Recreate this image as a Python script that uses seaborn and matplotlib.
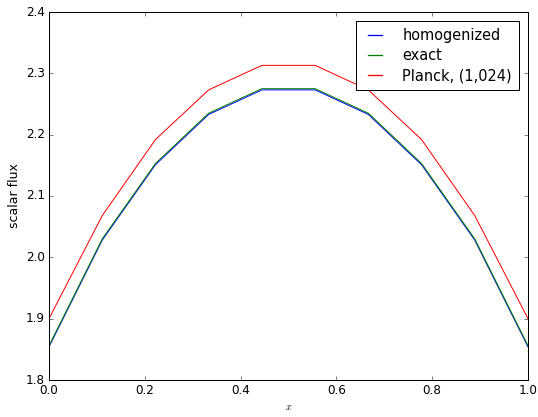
import numpy as np
import pandas as pd
import matplotlib
matplotlib.use("Agg")
import matplotlib.pyplot as plt
from matplotlib.lines import Line2D
import seaborn as sns

# data
x_vals = [0.0, 1/9, 2/9, 3/9, 4/9, 5/9, 6/9, 7/9, 8/9, 1.0]
homogenized = [1.854, 2.028, 2.151, 2.233, 2.273, 2.273, 2.233, 2.151, 2.028, 1.854]
exact = [1.856, 2.030, 2.153, 2.235, 2.275, 2.275, 2.235, 2.153, 2.030, 1.856]
planck = [1.900, 2.068, 2.192, 2.273, 2.313, 2.313, 2.273, 2.192, 2.068, 1.900]
labels = ["homogenized", "exact", "Planck, (1,024)"]
colors = ["#0000ff", "#008000", "#ff0000"]

if __name__ == "__main__":
    plt.style.use("classic")
    plt.rcParams["figure.facecolor"] = "white"
    plt.rcParams["savefig.facecolor"] = "white"

    frames = []
    for lab, vals in zip(labels, [homogenized, exact, planck]):
        frames.append(pd.DataFrame({"x": x_vals, "flux": vals, "series": lab}))
    df = pd.concat(frames, ignore_index=True)

    fig = plt.figure(figsize=(538 / 72, 417 / 72), dpi=72)
    ax = fig.add_axes([49 / 538, 1 - 380 / 417, (528 - 49) / 538, (380 - 12) / 417])
    sns.lineplot(data=df, x="x", y="flux", hue="series", hue_order=labels,
                 palette=colors, linewidth=1.0, ax=ax, legend=False)

    ax.set_xlim(0, 1)
    ax.set_ylim(1.8, 2.4)
    ax.set_xticks(np.arange(0, 1.01, 0.2))
    ax.set_yticks(np.arange(1.8, 2.41, 0.1))
    ax.set_xlabel("$x$", fontsize=10)
    ax.set_ylabel("scalar flux", fontsize=12.5)

    handles = [Line2D([], [], color=c, linewidth=1.3) for c in colors]
    ax.legend(handles, labels, loc="upper right", fontsize=14.5, fancybox=False,
              handlelength=1.6, handletextpad=1.1, labelspacing=0.35,
              borderpad=0.5, borderaxespad=0.6)

    fig.savefig("out.png", dpi=72)
